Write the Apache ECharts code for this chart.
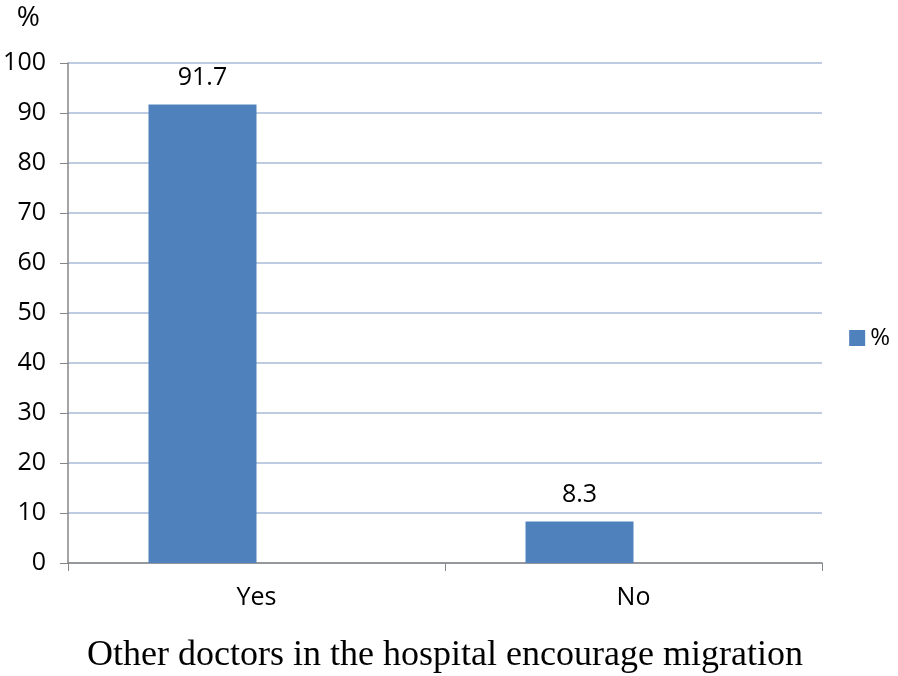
<!DOCTYPE html>
<html><head><meta charset="utf-8">
<script src="https://cdn.jsdelivr.net/npm/echarts@6/dist/echarts.min.js"></script>
<style>html,body{margin:0;padding:0;background:#fff}#c{width:898px;height:676px}</style>
</head><body><div id="c"></div>
<script>
const categories = ['Yes', 'No'];
const values = [91.7, 8.3];
const seriesName = '%';
const yTicks = [0, 10, 20, 30, 40, 50, 60, 70, 80, 90, 100];
const xTitle = 'Other doctors in the hospital encourage migration';

const chart = echarts.init(document.getElementById('c'));
const font = '"Open Sans", "Liberation Sans", sans-serif';
chart.setOption({
  animation: false,
  backgroundColor: '#fff',
  grid: { left: 68, right: 76, top: 63, bottom: 113, containLabel: false, outerBoundsMode: 'none' },
  legend: {
    data: [{ name: seriesName, icon: 'rect' }], right: 3, top: 321, orient: 'vertical',
    itemWidth: 16, itemHeight: 16, itemGap: 5,
    textStyle: { fontFamily: font, fontSize: 24, color: '#000' }
  },
  xAxis: {
    type: 'category', data: categories,
    name: xTitle, nameLocation: 'middle', nameGap: 75,
    nameTextStyle: { fontFamily: '"Liberation Serif", "Times New Roman", serif', fontSize: 36, color: '#000' },
    axisLine: { lineStyle: { color: '#868686', width: 1.5 } },
    axisTick: { show: true, length: 8, lineStyle: { color: '#868686' } },
    axisLabel: { fontFamily: font, fontSize: 25, color: '#000', margin: 22 }
  },
  yAxis: {
    type: 'value', min: yTicks[0], max: yTicks[yTicks.length - 1], interval: 10,
    name: '%', nameLocation: 'end', nameGap: 0,
    nameTextStyle: { fontFamily: font, fontSize: 28, color: '#000', align: 'right', verticalAlign: 'bottom', padding: [0, 28, 31, 0] },
    axisLine: { show: true, lineStyle: { color: '#868686', width: 1.5 } },
    axisTick: { show: true, length: 8, lineStyle: { color: '#868686' } },
    axisLabel: { fontFamily: font, fontSize: 25, color: '#000', margin: 22 },
    splitLine: { lineStyle: { color: '#a8bbd9', width: 1.5 } }
  },
  series: [
    {
      name: seriesName, type: 'bar', data: values, barWidth: 108, barGap: '0%',
      itemStyle: { color: '#4f81bd' },
      label: { show: true, position: 'top', distance: 14, fontFamily: font, fontSize: 25, color: '#000' }
    },
    { name: '_blank', type: 'bar', data: categories.map(() => null), barWidth: 108 }
  ]
});
</script></body></html>
